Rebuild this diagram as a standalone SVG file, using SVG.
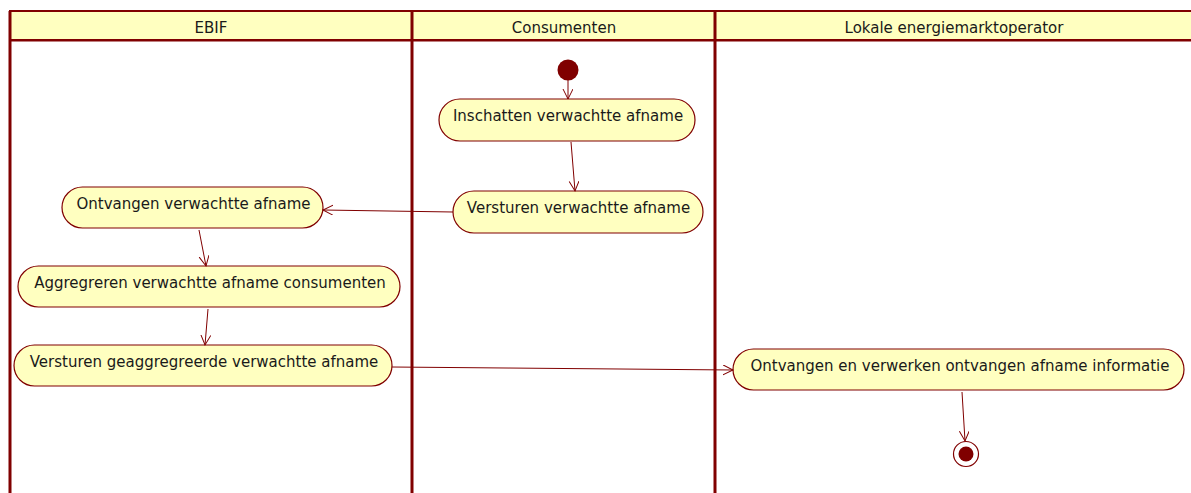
<svg xmlns="http://www.w3.org/2000/svg" width="1191" height="493" viewBox="0 0 1191 493">
<style>
.lane{fill:#FFFFC0;stroke:#800000;stroke-width:2}
.sep{stroke:#800000;stroke-width:3;fill:none}
.act{fill:#FFFFC0;stroke:#800000;stroke-width:1.2}
.t{font-family:"DejaVu Sans",Verdana,sans-serif;font-size:15px;fill:#1a1a1a;text-anchor:middle}
.c{stroke:#800000;stroke-width:1;fill:none;marker-end:url(#ah)}
</style>
<defs>
<marker id="ah" markerWidth="12" markerHeight="12" refX="10" refY="5" orient="auto" markerUnits="userSpaceOnUse">
<path d="M0,0 L10,5 L0,10" fill="none" stroke="#800000" stroke-width="1"/>
</marker>
</defs>
<rect width="1191" height="493" fill="#fff"/>
<g id="lanes">
<rect class="lane" x="10" y="11" width="1190" height="29"/>
<line class="sep" x1="10" y1="11" x2="10" y2="493"/>
<line class="sep" x1="412" y1="11" x2="412" y2="493"/>
<line class="sep" x1="715" y1="11" x2="715" y2="493"/>
<line x1="10" y1="40.5" x2="1191" y2="40.5" stroke="#800000" stroke-width="2"/>
<text class="t" x="211" y="33">EBIF</text>
<text class="t" x="564" y="33">Consumenten</text>
<text class="t" x="954" y="33">Lokale energiemarktoperator</text>
</g>
<g id="start"><circle cx="568" cy="70" r="10.5" fill="#800000"/></g>
<g id="n1"><rect class="act" x="439" y="99" width="256" height="42" rx="21"/><text class="t" x="568" y="121">Inschatten verwachtte afname</text></g>
<g id="n2"><rect class="act" x="453" y="191" width="250" height="42" rx="21"/><text class="t" x="578.5" y="213">Versturen verwachtte afname</text></g>
<g id="n3"><rect class="act" x="62" y="187" width="261" height="41" rx="20.5"/><text class="t" x="193.5" y="209">Ontvangen verwachtte afname</text></g>
<g id="n4"><rect class="act" x="18" y="266" width="382" height="41" rx="20.5"/><text class="t" x="210" y="288">Aggregreren verwachtte afname consumenten</text></g>
<g id="n5"><rect class="act" x="14" y="345" width="378" height="41" rx="20.5"/><text class="t" x="204" y="367">Versturen geaggregreerde verwachtte afname</text></g>
<g id="n6"><rect class="act" x="733" y="349" width="451" height="41" rx="20.5"/><text class="t" x="960" y="371">Ontvangen en verwerken ontvangen afname informatie</text></g>
<g id="end"><circle cx="966" cy="454" r="12.5" fill="#fff" stroke="#800000" stroke-width="1.2"/><circle cx="966" cy="454" r="7.5" fill="#800000"/></g>
<g id="connectors">
<line class="c" x1="568" y1="80" x2="568" y2="99"/>
<line class="c" x1="571" y1="142" x2="575" y2="191"/>
<line class="c" x1="453" y1="212" x2="323" y2="210"/>
<line class="c" x1="199" y1="230" x2="206" y2="266"/>
<line class="c" x1="208" y1="309" x2="205" y2="345"/>
<line class="c" x1="392" y1="367" x2="733" y2="370"/>
<line class="c" x1="962" y1="392" x2="965" y2="441"/>
</g>
</svg>
